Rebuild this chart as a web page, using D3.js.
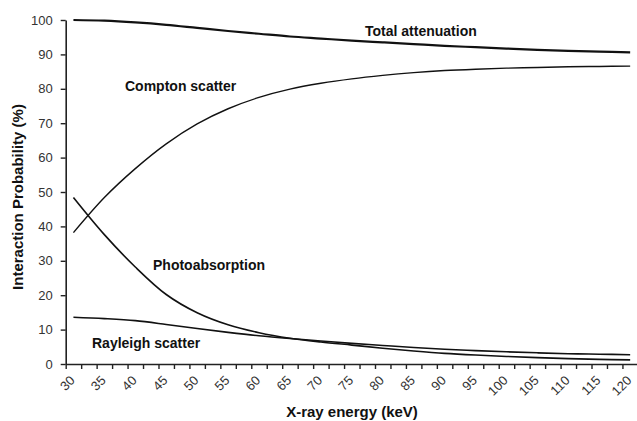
<!DOCTYPE html>
<html>
<head>
<meta charset="utf-8">
<script src="https://cdn.jsdelivr.net/npm/d3@7"></script>
<style>
  body { margin: 0; background: #fff; }
  svg { display: block; font-family: "Liberation Sans", Arial, sans-serif; }
  .lbl { font-weight: bold; font-size: 14px; fill: #111; }
  .tick text { font-size: 13px; fill: #333; }
</style>
</head>
<body>
<div id="chart"></div>
<script>
// energies, keV (one point every 5 keV)
const energy = [30, 35, 40, 45, 50, 55, 60, 65, 70, 75, 80, 85, 90, 95, 100, 105, 110, 115, 120];
const totalAtt = [100, 99.8, 99.3, 98.6, 97.7, 96.8, 96.0, 95.2, 94.6, 94.0, 93.5, 93.0, 92.5, 92.1, 91.7, 91.3, 91.0, 90.8, 90.6];
const compton = [38.2, 48.4, 56.8, 64.0, 69.8, 74.2, 77.5, 79.9, 81.6, 82.9, 83.9, 84.7, 85.3, 85.7, 86.0, 86.2, 86.4, 86.5, 86.6];
const photo = [48.4, 37.6, 28.2, 20.2, 14.9, 11.4, 9.1, 7.5, 6.4, 5.5, 4.6, 3.8, 3.1, 2.6, 2.2, 1.85, 1.55, 1.35, 1.2];
const rayleigh = [13.6, 13.2, 12.6, 11.5, 10.3, 9.2, 8.2, 7.4, 6.7, 6.0, 5.4, 4.8, 4.3, 3.9, 3.55, 3.25, 3.0, 2.85, 2.7];

const yTicks = [0, 10, 20, 30, 40, 50, 60, 70, 80, 90, 100];
const xLabels = [30, 35, 40, 45, 50, 55, 60, 65, 70, 75, 80, 85, 90, 95, 100, 105, 110, 115, 120];
// Excel-like category axis: a tick between each 2.5 keV category
const xTickMarks = d3.range(28.75, 121.3, 2.5);

const W = 637, H = 421;
const svg = d3.select("#chart").append("svg")
    .attr("width", W).attr("height", H);

const xScale = d3.scaleLinear().domain([28.75, 121.25]).range([65.7, 637.9]);
const yScale = d3.scaleLinear().domain([0, 100]).range([364, 20]);

// Ось Y
const yAxis = svg.append("g")
    .attr("transform", "translate(65.7,0)")
    .call(d3.axisLeft(yScale).tickValues(yTicks).tickSize(5).tickSizeOuter(0).tickPadding(8));
yAxis.select(".domain").attr("stroke", "#222").attr("stroke-width", 1.6);
yAxis.selectAll(".tick line").attr("stroke", "#222").attr("stroke-width", 1.4);

// Ось X (только засечки)
const xAxis = svg.append("g")
    .attr("transform", "translate(0,364)")
    .call(d3.axisBottom(xScale).tickValues(xTickMarks).tickFormat("").tickSize(5).tickSizeOuter(0));
xAxis.select(".domain").attr("stroke", "#222").attr("stroke-width", 1.6);
xAxis.selectAll(".tick line").attr("stroke", "#222").attr("stroke-width", 1.4);

// подписи X под 45°
svg.append("g").selectAll("text")
    .data(xLabels)
    .enter()
    .append("text")
    .attr("transform", d => `translate(${xScale(d) - 1},378) rotate(-45)`)
    .attr("text-anchor", "end")
    .attr("dy", "0.35em")
    .attr("font-size", 13)
    .attr("fill", "#333")
    .text(d => d);

// Названия осей
svg.append("text")
    .attr("x", 352).attr("y", 417)
    .attr("text-anchor", "middle")
    .attr("font-weight", "bold").attr("font-size", 15).attr("fill", "#111")
    .text("X-ray energy (keV)");
svg.append("text")
    .attr("transform", "translate(23,197) rotate(-90)")
    .attr("text-anchor", "middle")
    .attr("font-weight", "bold").attr("font-size", 15).attr("fill", "#111")
    .text("Interaction Probability (%)");

const series = [
    {name: "Total attenuation", data: totalAtt, w: 2.2},
    {name: "Compton scatter", data: compton, w: 1.4},
    {name: "Photoabsorption", data: photo, w: 1.6},
    {name: "Rayleigh scatter", data: rayleigh, w: 1.6}
];

const line = d3.line()
    .x(d => xScale(d[0]))
    .y(d => yScale(d[1]))
    .curve(d3.curveCatmullRom.alpha(0.5));

for (const s of series) {
    svg.append("path")
        .datum(energy.map((e, i) => [e, s.data[i]]))
        .attr("d", line)
        .attr("fill", "none")
        .attr("stroke", "#111")
        .attr("stroke-width", s.w);
}

// подписи кривых
const notes = [
    {t: "Total attenuation", x: 365, y: 36},
    {t: "Compton scatter", x: 125, y: 91},
    {t: "Photoabsorption", x: 153, y: 270},
    {t: "Rayleigh scatter", x: 92, y: 348}
];
svg.append("g").selectAll("text")
    .data(notes)
    .enter()
    .append("text")
    .attr("class", "lbl")
    .attr("x", d => d.x).attr("y", d => d.y)
    .text(d => d.t);
</script>
</body>
</html>
